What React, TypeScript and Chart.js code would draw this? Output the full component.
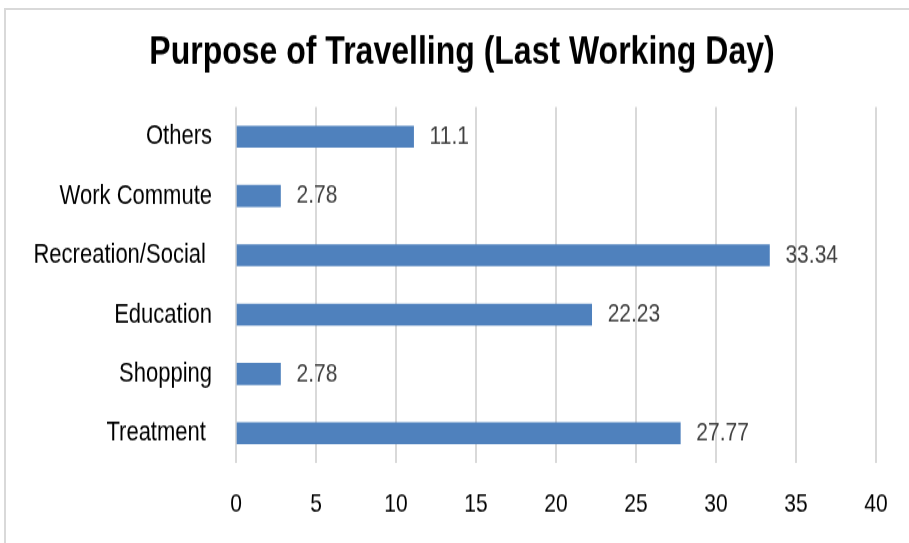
import React, { useEffect, useRef } from "react";
import { Chart, registerables } from "chart.js";

Chart.register(...registerables);

const chartTitle = "Purpose of Travelling (Last Working Day)";
const categories = ["Others", "Work Commute", "Recreation/Social ", "Education", "Shopping", "Treatment "];
const values = [11.1, 2.78, 33.34, 22.23, 2.78, 27.77];
const valueLabels = ["11.1", "2.78", "33.34", "22.23", "2.78", "27.77"];
const axisMin = 0;
const axisMax = 40;
const axisStep = 5;

const FONT = "'Liberation Sans', Arial, sans-serif";
const CANVAS_W = 909;
const CANVAS_H = 434; // drawn, then stretched vertically to 543 like the reference

const valueLabelPlugin = {
  id: "valueLabels",
  afterDatasetsDraw(chart: any) {
    const ctx = chart.ctx;
    const meta = chart.getDatasetMeta(0);
    ctx.save();
    ctx.font = `21px ${FONT}`;
    ctx.fillStyle = "#404040";
    ctx.textAlign = "left";
    ctx.textBaseline = "middle";
    meta.data.forEach((bar: any, i: number) => {
      ctx.fillText(valueLabels[i], bar.x + 16, bar.y);
    });
    ctx.restore();
  },
};

const titlePlugin = {
  id: "offsetTitle",
  afterDraw(chart: any) {
    const ctx = chart.ctx;
    ctx.save();
    ctx.font = `bold 32px ${FONT}`;
    ctx.fillStyle = "#000000";
    ctx.textAlign = "center";
    ctx.textBaseline = "middle";
    ctx.fillText(chartTitle, 462, 42.5);
    ctx.restore();
  },
};

export default function App() {
  const ref = useRef<HTMLCanvasElement | null>(null);

  useEffect(() => {
    if (!ref.current) return;
    const chart = new Chart(ref.current, {
      type: "bar",
      data: {
        labels: categories,
        datasets: [
          {
            data: values,
            backgroundColor: "#4f81bd",
            borderWidth: 0,
            barThickness: 17,
          },
        ],
      },
      options: {
        indexAxis: "y",
        responsive: false,
        maintainAspectRatio: false,
        devicePixelRatio: 1,
        animation: false,
        layout: { padding: { left: 0, right: 33, top: 85.5, bottom: 0 } },
        plugins: {
          legend: { display: false },
          tooltip: { enabled: false },
          title: { display: false },
        },
        scales: {
          x: {
            type: "linear",
            min: axisMin,
            max: axisMax,
            ticks: {
              stepSize: axisStep,
              color: "#000000",
              font: { family: FONT, size: 21 },
              padding: 21,
            },
            grid: { color: "#d9d9d9", lineWidth: 2, drawTicks: false },
            border: { display: false },
            afterFit: (s: any) => {
              s.height = 64;
            },
          },
          y: {
            type: "category",
            ticks: {
              color: "#000000",
              font: { family: FONT, size: 22 },
              padding: 24,
            },
            grid: { display: false, drawTicks: false },
            border: { display: false },
            afterFit: (s: any) => {
              s.width = 236;
            },
          },
        },
      },
      plugins: [valueLabelPlugin, titlePlugin],
    });
    return () => chart.destroy();
  }, []);

  return (
    <div
      style={{
        position: "fixed",
        left: 0,
        top: 0,
        width: 909,
        height: 543,
        overflow: "hidden",
        background: "#ffffff",
      }}
    >
      <div
        style={{
          position: "absolute",
          left: 4,
          top: 8,
          width: 940,
          height: 580,
          border: "2px solid #d9d9d9",
          boxSizing: "border-box",
        }}
      />
      <canvas
        ref={ref}
        width={CANVAS_W}
        height={CANVAS_H}
        style={{
          position: "absolute",
          left: 0,
          top: 0,
          width: "909px",
          height: "543px",
          display: "block",
        }}
      />
    </div>
  );
}
